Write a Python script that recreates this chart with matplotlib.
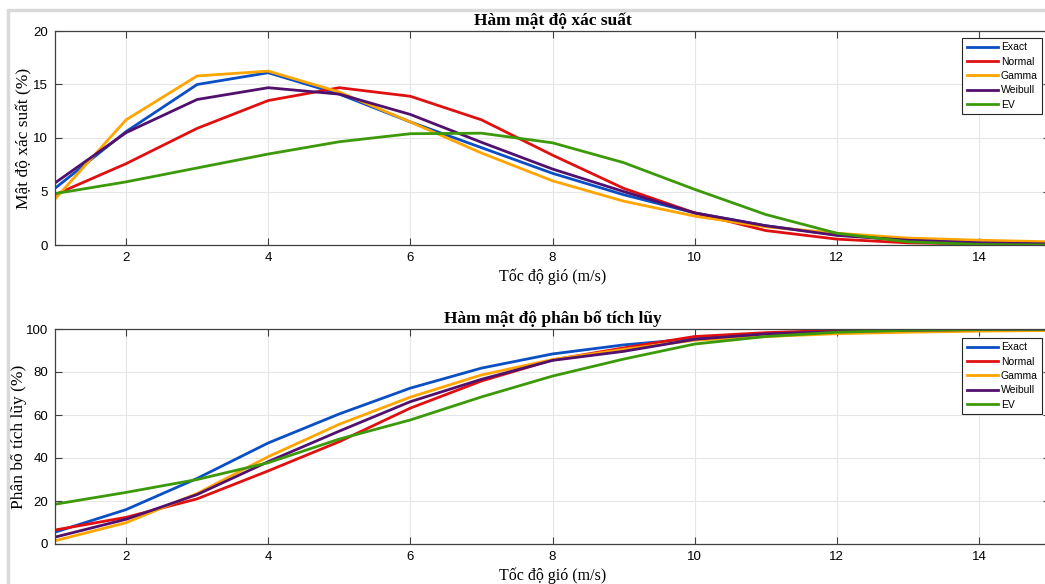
import numpy as np
import matplotlib.pyplot as plt
from matplotlib.patches import Rectangle

# wind speed (m/s)
v = np.arange(1, 16)

# probability density (%)
pdf_exact = [5.3, 10.6, 15.0, 16.1, 14.1, 11.5, 9.1, 6.7, 4.7, 3.0, 1.8, 0.95, 0.45, 0.2, 0.1]
pdf_normal = [4.7, 7.6, 10.9, 13.5, 14.7, 13.9, 11.7, 8.4, 5.3, 3.0, 1.35, 0.55, 0.2, 0.1, 0.05]
pdf_gamma = [4.3, 11.7, 15.8, 16.25, 14.3, 11.5, 8.6, 6.0, 4.1, 2.7, 1.7, 1.1, 0.65, 0.45, 0.3]
pdf_weibull = [5.8, 10.5, 13.6, 14.7, 14.1, 12.2, 9.6, 7.1, 5.0, 3.0, 1.8, 0.9, 0.45, 0.2, 0.1]
pdf_ev = [4.8, 5.9, 7.2, 8.5, 9.65, 10.4, 10.45, 9.55, 7.7, 5.2, 2.85, 1.1, 0.3, 0.05, 0.0]

# cumulative distribution (%)
cdf_exact = [5.5, 16.0, 30.5, 47.0, 60.5, 72.5, 81.8, 88.4, 92.6, 95.5, 97.8, 99.0, 99.5, 99.8, 99.9]
cdf_normal = [6.5, 12.4, 21.0, 34.0, 47.6, 63.2, 75.8, 85.6, 91.2, 96.5, 98.3, 99.4, 99.8, 99.9, 100.0]
cdf_gamma = [1.5, 9.9, 23.5, 40.6, 55.7, 68.3, 78.6, 85.8, 90.5, 94.8, 96.5, 97.8, 98.5, 99.0, 99.3]
cdf_weibull = [3.2, 11.5, 23.0, 38.3, 52.5, 66.2, 76.6, 85.4, 89.6, 95.2, 97.7, 98.8, 99.4, 99.7, 99.9]
cdf_ev = [18.5, 24.0, 30.0, 37.8, 48.8, 57.7, 68.4, 78.1, 86.0, 93.0, 96.5, 98.5, 99.4, 99.8, 99.9]

labels = ['Exact', 'Normal', 'Gamma', 'Weibull', 'EV']
colors = ['#0a4fc4', '#e01010', '#ffa500', '#52106e', '#3c9a0a']

fig = plt.figure(figsize=(10.45, 5.84), dpi=100)

# light frame of the original figure window
fig.patches.append(Rectangle((8 / 1045, -0.1), 1.2, (584 - 10) / 584 + 0.1,
                             transform=fig.transFigure, fill=False,
                             edgecolor='#d9d9d9', linewidth=2.5))

W, H = 1045, 584
ax1 = fig.add_axes([55 / W, (H - 245) / H, 995 / W, 214 / H])
ax2 = fig.add_axes([55 / W, (H - 544) / H, 995 / W, 215 / H])

serif = 'Liberation Serif'
sans = 'Liberation Sans'


def style(ax, title, ylabel, ymax, yticks, ylab_x):
    ax.set_xlim(1, 15)
    ax.set_ylim(0, ymax)
    ax.set_xticks([2, 4, 6, 8, 10, 12, 14])
    ax.set_yticks(yticks)
    ax.grid(True, color='#e6e6e6', linewidth=0.8)
    ax.set_axisbelow(True)
    ax.tick_params(direction='in', length=5, top=True, right=True,
                   color='#404040', labelsize=9.5, pad=5)
    for lab in ax.get_xticklabels() + ax.get_yticklabels():
        lab.set_fontfamily(sans)
    for s in ax.spines.values():
        s.set_color('#404040')
        s.set_linewidth(0.9)
    ax.set_title(title, fontfamily=serif, fontweight='bold', fontsize=12.5, pad=4)
    ax.set_xlabel('Tốc độ gió (m/s)', fontfamily=serif, fontsize=11.5, labelpad=3)
    ax.set_ylabel(ylabel, fontfamily=serif, fontsize=12.5)
    ax.yaxis.set_label_coords(ylab_x, 0.5)


for series, c, lab in zip([pdf_exact, pdf_normal, pdf_gamma, pdf_weibull, pdf_ev], colors, labels):
    ax1.plot(v, series, color=c, linewidth=2, label=lab)
for series, c, lab in zip([cdf_exact, cdf_normal, cdf_gamma, cdf_weibull, cdf_ev], colors, labels):
    ax2.plot(v, series, color=c, linewidth=2, label=lab)

style(ax1, 'Hàm mật độ xác suất', 'Mật độ xác suất (%)', 20, [0, 5, 10, 15, 20], -0.023)
style(ax2, 'Hàm mật độ phân bố tích lũy', 'Phân bố tích lũy (%)', 100,
      [0, 20, 40, 60, 80, 100], -0.028)

for ax, top in ((ax1, 0.967), (ax2, 0.958)):
    leg = ax.legend(loc='upper right', bbox_to_anchor=(0.992, top),
                    prop={'family': sans, 'size': 7.5}, fancybox=False,
                    framealpha=1, edgecolor='#262626', handlelength=3.0,
                    handletextpad=0.3, labelspacing=0.42, borderpad=0.4,
                    borderaxespad=0)
    leg.get_frame().set_linewidth(0.8)

fig.savefig('out.png', dpi=100)
